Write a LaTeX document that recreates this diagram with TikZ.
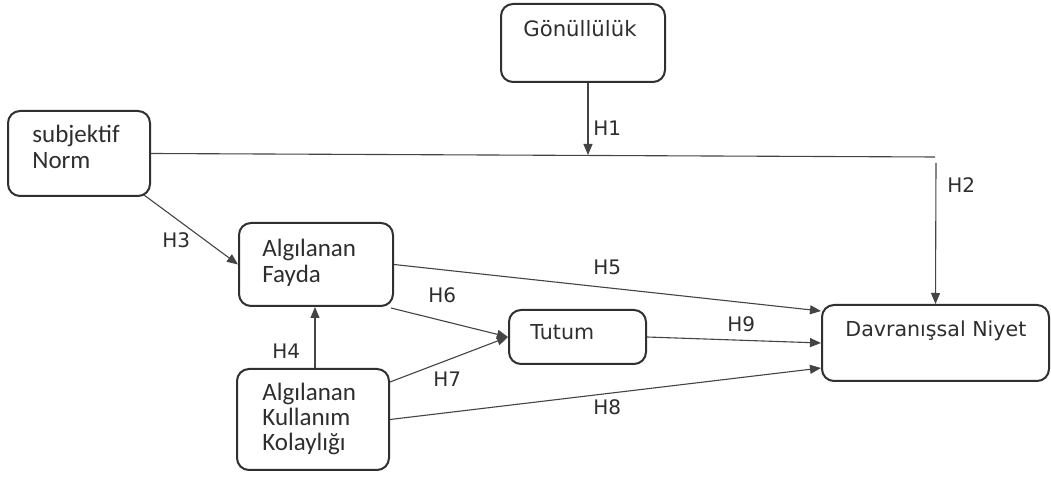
\documentclass[tikz,border=0pt]{standalone}
\usepackage{fontspec}
\setmainfont{DejaVu Sans}
\newfontfamily\calfont{Carlito}
\usetikzlibrary{arrows.meta,calc}
\definecolor{inkgray}{HTML}{2E2E2E}
\definecolor{edgegray}{HTML}{303030}
\definecolor{linkgray}{HTML}{444444}
\tikzset{
  box/.style={draw=edgegray, line width=1pt, rounded corners=6pt, inner sep=0pt},
  vtext/.style={anchor=base west, inner sep=0pt, text=inkgray, font=\fontsize{10.3}{12}\selectfont},
  ctext/.style={anchor=base west, inner sep=0pt, text=inkgray, align=left,
    font=\calfont\fontsize{12.5}{13}\selectfont},
  hyp/.style={anchor=base west, inner sep=0pt, text=inkgray, font=\fontsize{10}{12}\selectfont},
  link/.style={draw=linkgray, line width=0.55pt},
  arr/.style={link, -{Triangle[length=5.5pt,width=4.5pt]}},
}
\begin{document}
\begin{tikzpicture}[x=0.5pt,y=-0.5pt]
\useasboundingbox[fill=white] (0,0) rectangle (1051,480);

% construct boxes
\node[box, minimum width=82pt, minimum height=39pt] (gon) at (583,43) {};
\node[box, minimum width=71pt, minimum height=42.5pt] (norm) at (79,153.5) {};
\node[box, minimum width=77pt, minimum height=41.5pt] (fay) at (316,264.5) {};
\node[box, minimum width=68.5pt, minimum height=27pt] (tut) at (577.5,337) {};
\node[box, minimum width=113.5pt, minimum height=38pt] (dav) at (935.5,343) {};
\node[box, minimum width=76pt, minimum height=50.5pt] (akk) at (313,419.5) {};

% box captions (multi-line ones are placed by their last baseline)
\node[vtext, font=\fontsize{10.6}{12}\selectfont] (tgon) at (523,37) {Gönüllülük};
\node[ctext] (tnorm) at (32,169) {subjektif\\Norm};
\node[ctext] (tfay) at (262,283) {Algılanan\\Fayda};
\node[vtext] (ttut) at (530,340) {Tutum};
\node[vtext] (tdav) at (845,337) {Davranışsal Niyet};
\node[ctext, font=\calfont\fontsize{12.5}{12.5}\selectfont] (takk) at (262,451) {Algılanan\\Kullanım\\Kolaylığı};

% moderating path
\coordinate (lineend) at (935,157);
\coordinate (h2top) at (936,163);
\coordinate (h1tip) at (588,155);
\draw[link] (norm.east) -- (lineend);
\draw[arr] ([xshift=2.5pt]gon.south) -- (h1tip);
\draw[arr] (h2top) -- (dav.north);

% structural paths
\draw[arr] ([xshift=-3.5pt,yshift=1pt]norm.south east) -- (fay.west);
\draw[arr] ([xshift=1pt]akk.north) -- ([xshift=-0.5pt]fay.south);
\draw[arr] (fay.east) -- ($(dav.west)+(0,-32)$);
\draw[arr] ([xshift=-1.5pt,yshift=-0.5pt]fay.south east) -- (tut.west);
\draw[arr] ($(akk.north east)+(0,14)$) -- (tut.west);
\draw[arr] (akk.east) -- ($(dav.west)+(0,25)$);
\draw[arr] (tut.east) -- (dav.west);

% hypothesis labels
\node[hyp] (h1) at (593,136) {H1};
\node[hyp] (h2) at (947,193) {H2};
\node[hyp] (h3) at (162,248) {H3};
\node[hyp] (h4) at (272,359) {H4};
\node[hyp] (h5) at (593,275) {H5};
\node[hyp] (h6) at (428,303) {H6};
\node[hyp] (h7) at (433,387) {H7};
\node[hyp] (h8) at (593,415) {H8};
\node[hyp] (h9) at (727,332) {H9};
\end{tikzpicture}
\end{document}
